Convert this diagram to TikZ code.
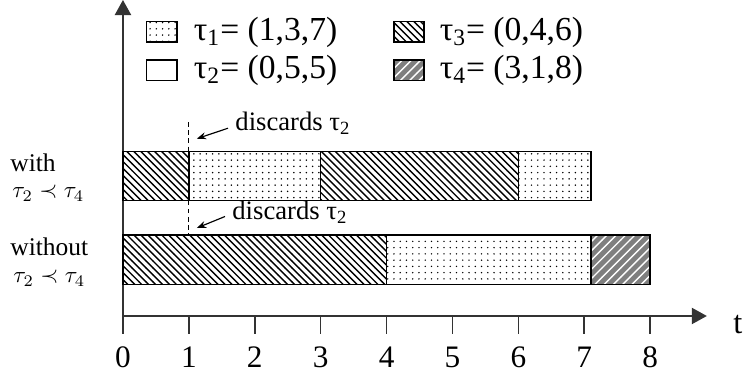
\documentclass[tikz,border=0pt]{standalone}
\usepackage{fontspec}
\setmainfont{Liberation Serif}
\usepackage{tikz}
\usetikzlibrary{arrows.meta, positioning, patterns}
\definecolor{axisdark}{HTML}{333333}
\definecolor{slotgray}{HTML}{7f7f7f}
\pgfdeclarepatternformonly{finedots}{\pgfqpoint{-1pt}{-1pt}}{\pgfqpoint{1pt}{1pt}}{\pgfqpoint{2.7pt}{2.7pt}}%
  {\pgfpathcircle{\pgfqpoint{0pt}{0pt}}{.35pt}\pgfusepath{fill}}
\pgfdeclarepatternformonly{nwhatch}{\pgfqpoint{-1pt}{-1pt}}{\pgfqpoint{4pt}{4pt}}{\pgfqpoint{3pt}{3pt}}%
  {\pgfsetlinewidth{0.6pt}\pgfpathmoveto{\pgfqpoint{0pt}{3pt}}\pgfpathlineto{\pgfqpoint{3.1pt}{-0.1pt}}\pgfusepath{stroke}}
\pgfdeclarepatternformonly{nehatch}{\pgfqpoint{-1pt}{-1pt}}{\pgfqpoint{5pt}{5pt}}{\pgfqpoint{4pt}{4pt}}%
  {\pgfsetlinewidth{0.6pt}\pgfpathmoveto{\pgfqpoint{0pt}{0pt}}\pgfpathlineto{\pgfqpoint{4.1pt}{4.1pt}}\pgfusepath{stroke}}
\tikzstyle{taskone} = [draw=black, line width=0.6pt, pattern=finedots]
\tikzstyle{tasktwo} = [draw=black, line width=0.6pt, fill=white]
\tikzstyle{taskthree} = [draw=black, line width=0.6pt, pattern=nwhatch]
\tikzstyle{taskfour} = [draw=black, line width=0.6pt, preaction={fill=slotgray}, pattern=nehatch, pattern color=white]
\tikzstyle{legbox} = [rectangle, minimum width=0.46cm, minimum height=0.31cm, inner sep=0pt]
\tikzstyle{legtext} = [font=\fontsize{14.5}{17}\selectfont, inner sep=0pt, right=0.24cm]
\tikzstyle{disctext} = [font=\fontsize{11.5}{14}\selectfont, inner sep=0pt, anchor=west]
\tikzstyle{rowlabel} = [font=\fontsize{11}{13}\selectfont, inner sep=0pt, anchor=west]
\tikzstyle{rellabel} = [font=\fontsize{10}{12}\selectfont, inner sep=0pt, anchor=west]
\tikzstyle{ticklabel} = [font=\fontsize{13.5}{16}\selectfont, inner sep=0pt]
\tikzstyle{axisline} = [line width=0.7pt, draw=axisdark]
\tikzstyle{axisarrow} = [line width=0.7pt, draw=axisdark, -{Triangle[length=6.5pt, width=7pt]}]
\tikzstyle{dashline} = [line width=0.5pt, dash pattern=on 2pt off 1.5pt]
\tikzstyle{pointer} = [line width=0.5pt, -{Stealth[length=4pt, width=3pt]}]

\begin{document}
\begin{tikzpicture}
  \useasboundingbox (-1.866,-0.956) rectangle (9.439,4.795);

  % legend
  \node (lg1) [legbox, taskone]   at (0.59,4.31) {};
  \node (lg2) [legbox, tasktwo]   at (0.59,3.73) {};
  \node (lg3) [legbox, taskthree] at (4.34,4.31) {};
  \node (lg4) [legbox, taskfour]  at (4.34,3.73) {};
  \node (lt1) [legtext, right=0.24cm of lg1] {τ\textsubscript{1}= (1,3,7)};
  \node (lt2) [legtext, right=0.24cm of lg2] {τ\textsubscript{2}= (0,5,5)};
  \node (lt3) [legtext, right=0.22cm of lg3] {τ\textsubscript{3}= (0,4,6)};
  \node (lt4) [legtext, right=0.22cm of lg4] {τ\textsubscript{4}= (3,1,8)};

  % axes
  \draw[axisarrow] (0,-0.27) -- (0,4.795);
  \draw[axisarrow] (0,0) -- (8.86,0);
  \foreach \x in {1,...,8}
    \draw[axisline] (\x,0) -- (\x,-0.27);
  \foreach \x in {0,...,8}
    \node (tick\x) [ticklabel] at (\x,-0.63) {\x};
  \node (tlab) [ticklabel, font=\fontsize{14}{16}\selectfont] at (9.33,-0.13) {t};

  % discard marks
  \draw[dashline] (1,2.94) -- (1,2.5);
  \draw[dashline] (1,1.75) -- (1,1.25);
  \node (disc1) [disctext] at (1.70,2.92) {discards τ\textsubscript{2}};
  \node (disc2) [disctext] at (1.654,1.58) {discards τ\textsubscript{2}};
  \coordinate (hit1) at (1.12,2.69);
  \coordinate (hit2) at (1.12,1.335);
  \draw[pointer] ([xshift=-3pt,yshift=-2pt]disc1.west) -- (hit1);
  \draw[pointer] ([xshift=-3pt,yshift=-2pt]disc2.west) -- (hit2);

  % schedule with tau2 < tau4
  \draw[taskthree] (0,1.75) rectangle (1,2.5);
  \draw[taskone]   (1,1.75) rectangle (3,2.5);
  \draw[taskthree] (3,1.75) rectangle (6,2.5);
  \draw[taskone]   (6,1.75) rectangle (7.1,2.5);

  % schedule without tau2 < tau4
  \draw[taskthree] (0,0.48) rectangle (4,1.23);
  \draw[taskone]   (4,0.48) rectangle (7.1,1.23);
  \draw[taskfour]  (7.1,0.48) rectangle (8,1.23);

  % row labels
  \node (with)    [rowlabel] at (-1.715,2.33) {with};
  \node (withrel) [rellabel] at (-1.685,1.86) {$\tau_2 \prec \tau_4$};
  \node (wout)    [rowlabel] at (-1.715,1.05) {without};
  \node (woutrel) [rellabel] at (-1.670,0.57) {$\tau_2 \prec \tau_4$};
\end{tikzpicture}
\end{document}
